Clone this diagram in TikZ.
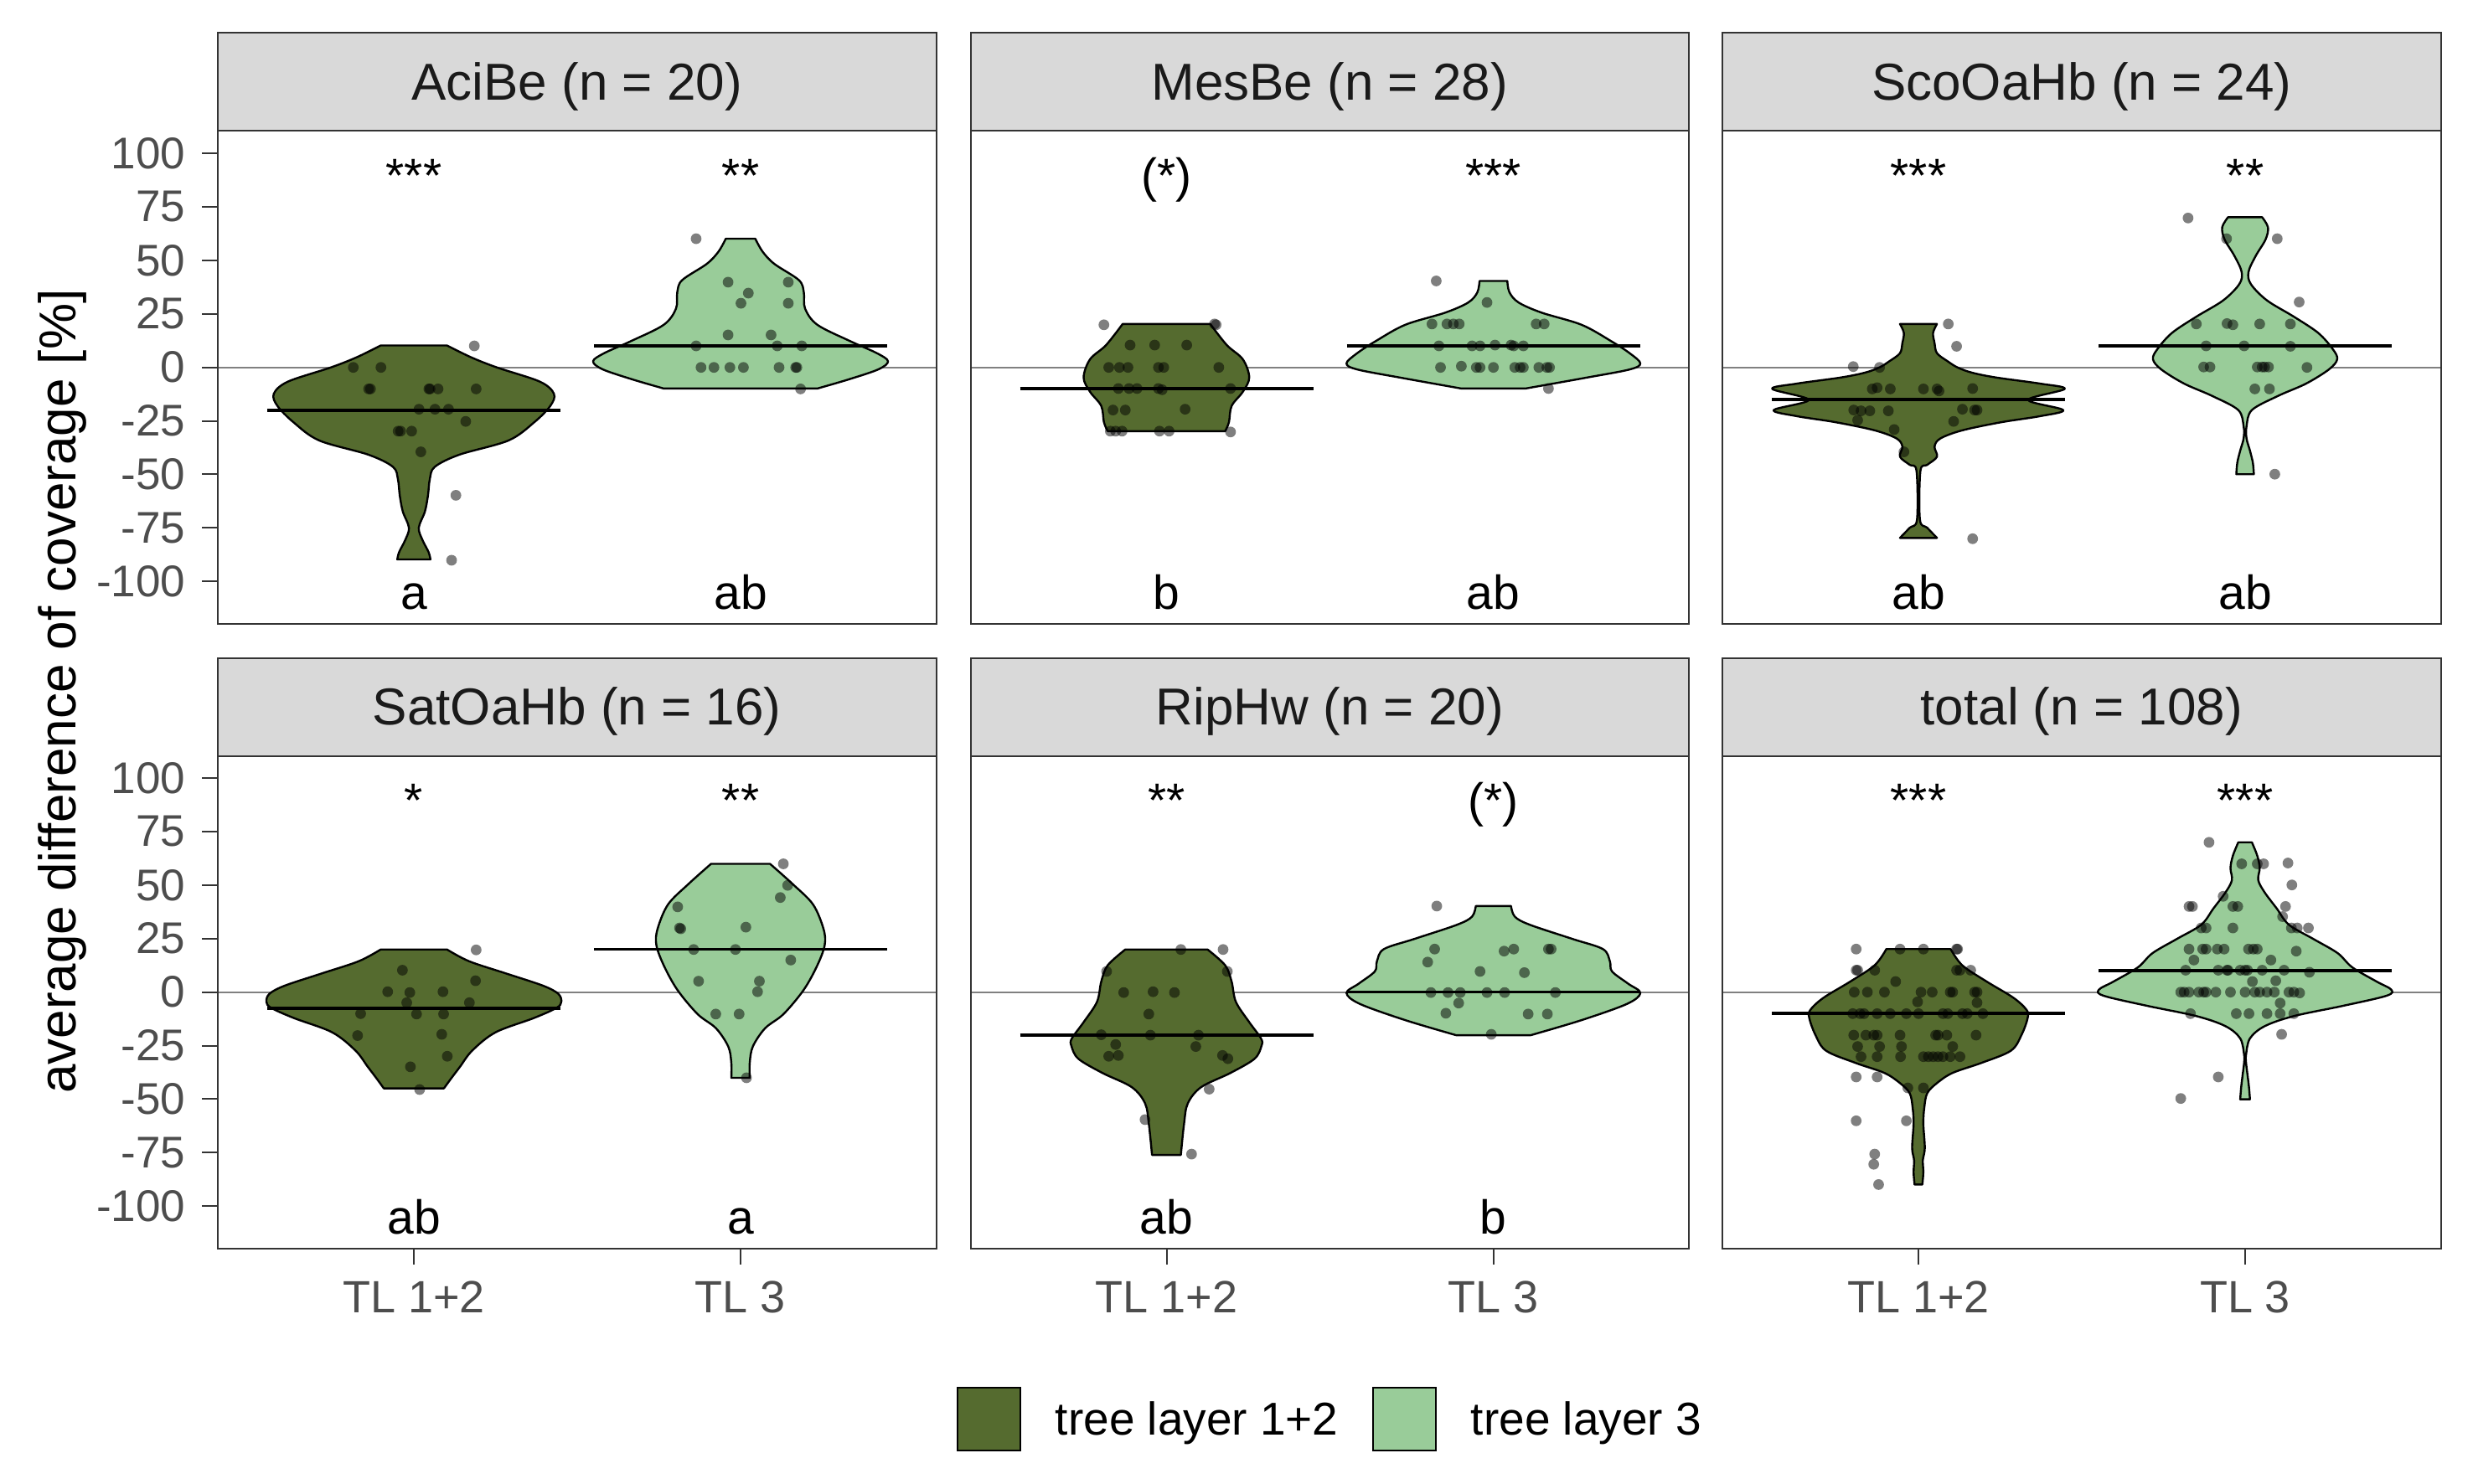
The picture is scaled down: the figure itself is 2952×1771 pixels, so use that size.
\documentclass[tikz,border=0pt]{standalone}
\usepackage{fontspec}
\setmainfont{Liberation Sans}
\definecolor{dgreen}{RGB}{85,107,47}
\definecolor{lgreen}{RGB}{153,204,153}
\definecolor{stripgrey}{RGB}{217,217,217}
\definecolor{framegrey}{RGB}{51,51,51}
\definecolor{ticktxt}{RGB}{77,77,77}
\definecolor{striptxt}{RGB}{26,26,26}
\definecolor{zerogrey}{RGB}{128,128,128}
\tikzset{
 vdark/.style={fill=dgreen, draw=black, line width=0.6pt, line join=round},
 vlight/.style={fill=lgreen, draw=black, line width=0.6pt, line join=round},
 medline/.style={draw=black, line width=0.9pt},
 dotfill/.style={fill=black, fill opacity=0.5},
 zeroline/.style={draw=zerogrey, line width=0.5pt},
 panelframe/.style={draw=framegrey, line width=0.5pt},
 stripbox/.style={fill=stripgrey, draw=framegrey, line width=0.5pt},
 striplabel/.style={font=\fontsize{15.5}{18}\selectfont, text=striptxt, anchor=base, inner sep=0pt},
 sig/.style={font=\fontsize{14.25}{17}\selectfont, anchor=base, inner sep=0pt},
 ytick/.style={font=\fontsize{13.25}{16}\selectfont, text=ticktxt, anchor=east, inner sep=0pt},
 xtick/.style={font=\fontsize{13.5}{16}\selectfont, text=ticktxt, anchor=base, inner sep=0pt},
 tickmark/.style={draw=framegrey, line width=0.5pt},
 legtext/.style={font=\fontsize{13.75}{16}\selectfont, anchor=base west, inner sep=0pt},
 legkey/.style={draw=black, line width=0.6pt},
}
\newcommand\violin[3]{%
 \gdef\vR{}\gdef\vL{}%
 \foreach \yy/\ww in {#3}{%
   \pgfmathsetmacro\xr{#2+\ww}\pgfmathsetmacro\xl{#2-\ww}%
   \xdef\vR{\vR(\xr,\yy)}\xdef\vL{(\xl,\yy)\vL}}%
 \edef\vtmp{\noexpand\draw[#1] plot[smooth,tension=0.55] coordinates {\vR} -- plot[smooth,tension=0.55] coordinates {\vL} -- cycle;}%
 \vtmp}
\newcommand\pts[1]{\foreach \qx/\qy in {#1}{\fill[dotfill] (\qx,\qy) circle[radius=1.6pt];}}
\begin{document}
\begin{tikzpicture}[x=0.25pt,y=-0.25pt]
\useasboundingbox[fill=white] (0,0) rectangle (2952,1771);
% zero lines
\foreach \L in {260,1158.5,2056}{
  \draw[zeroline] (\L,438.6) -- (\L+857.5,438.6);
  \draw[zeroline] (\L,1184.6) -- (\L+857.5,1184.6);
}
% ---------- Panel 1 (AciBe)
\begin{scope}[shift={(0,0)}]\begin{scope}[x=0.18335pt,y=-0.12118pt]
\violin{vdark}{673.6}{851/54, 880/93, 905/135, 940/205, 970/228, 1000/222, 1040/196, 1085/154, 1120/74, 1150/34, 1180/26, 1220/23, 1260/18, 1300/8, 1330/14, 1360/24, 1378/27}
\violin{vlight}{1205.3}{588/24, 620/36, 650/55, 690/95, 720/103, 760/105, 800/125, 840/178, 870/222, 890/240, 910/224, 935/175, 957/125}
\end{scope}\end{scope}
\draw[medline] (319,489.7) -- (669,489.7);
\draw[medline] (709,413.0) -- (1059,413.0);
\begin{scope}[shift={(0,0)}]\begin{scope}[x=0.18335pt,y=-0.12118pt]
\pts{772/852, 575/905, 620/905, 600/958, 603/958, 698/958, 700/958, 713/958, 775/958, 682/1008, 708/1008, 730/1008, 758/1038, 648/1062, 652/1062, 670/1062, 685/1113, 742/1220, 735/1380}
\pts{1133/588, 1185/695, 1283/695, 1218/722, 1206/747, 1283/747, 1185/825, 1255/825, 1133/852, 1265/852, 1305/852, 1141/905, 1162/905, 1188/905, 1210/905, 1268/905, 1295/905, 1297/905, 1303/958}
\end{scope}\end{scope}
% ---------- Panel 2 (MesBe)
\begin{scope}[shift={(1150,0)}]\begin{scope}[x=0.15944pt,y=-0.12118pt]
\violin{vdark}{380}{798/82, 850/113, 885/143, 930/155, 965/143, 1000/122, 1040/117, 1062/110}
\violin{vlight}{992}{692/26, 720/30, 745/47, 770/90, 800/165, 840/220, 870/255, 895/275, 910/255, 930/175, 957/60}
\end{scope}\end{scope}
\draw[medline] (1217.5,464.2) -- (1567.5,464.2);
\draw[medline] (1607.5,413.0) -- (1957.5,413.0);
\begin{scope}[shift={(1150,0)}]\begin{scope}[x=0.15944pt,y=-0.12118pt]
\pts{263/800, 470/798, 473/800, 312/850, 358/850, 418/850, 272/905, 292/905, 308/905, 365/905, 375/905, 478/905, 290/957, 310/957, 325/957, 365/957, 372/960, 500/957, 280/1010, 303/1010, 415/1008, 275/1062, 285/1062, 297/1062, 367/1062, 385/1062, 500/1064}
\pts{885/692, 980/745, 877/798, 905/798, 917/798, 928/798, 1072/798, 1087/798, 890/852, 952/852, 967/852, 995/850, 1025/850, 1030/852, 1048/852, 893/905, 932/902, 960/905, 967/905, 992/905, 1032/905, 1042/905, 1048/905, 1077/905, 1092/905, 1097/905, 1095/957}
\end{scope}\end{scope}
% ---------- Panel 3 (ScoOaHb)
\begin{scope}[shift={(2040,0)}]\begin{scope}[x=0.14543pt,y=-0.12118pt]
\violin{vdark}{429.8}{798/38, 820/30, 845/33, 870/38, 890/60, 905/80, 918/110, 930/160, 945/250, 958/300, 985/225, 1010/297, 1025/250, 1040/170, 1060/90, 1080/45, 1100/33, 1125/38, 1145/18, 1160/4, 1280/3, 1300/18, 1325/38}
\violin{vlight}{1100}{535/35, 560/47, 590/42, 630/22, 670/7, 700/12, 740/45, 780/100, 820/150, 860/180, 885/189, 910/172, 945/125, 975/68, 1010/14, 1050/3, 1080/3, 1110/10, 1140/16, 1168/18}
\end{scope}\end{scope}
\draw[medline] (2115,476.9) -- (2465,476.9);
\draw[medline] (2505,413.0) -- (2855,413.0);
\begin{scope}[shift={(2040,0)}]\begin{scope}[x=0.14543pt,y=-0.12118pt]
\pts{491/798, 508/853, 296/903, 350/905, 335/958, 345/955, 372/958, 440/958, 468/958, 472/963, 541/957, 297/1010, 312/1012, 330/1012, 368/1012, 520/1008, 545/1010, 550/1010, 305/1035, 502/1038, 380/1058, 400/1113, 541/1327}
\pts{983/537, 1062/588, 1166/588, 1211/744, 1000/798, 1063/797, 1075/800, 1130/798, 1193/798, 1020/852, 1098/852, 1193/853, 1015/904, 1028/904, 1125/904, 1135/904, 1140/904, 1148/904, 1227/905, 1120/958, 1150/958, 1161/1168}
\end{scope}\end{scope}
% ---------- Panel 4 (SatOaHb)
\begin{scope}[shift={(0,760)}]\begin{scope}[x=0.18335pt,y=-0.12118pt]
\violin{vdark}{673.6}{771/54, 800/90, 830/150, 860/210, 880/235, 900/240, 915/232, 940/195, 975/133, 1020/95, 1060/75, 1090/60, 1113/49}
\violin{vlight}{1205.3}{560/48, 610/85, 660/118, 720/135, 760/137, 810/125, 870/103, 930/70, 965/40, 1010/20, 1050/15, 1087/15}
\end{scope}\end{scope}
\draw[medline] (319,1203.8) -- (669,1203.8);
\draw[medline] (709,1133.5) -- (1059,1133.5);
\begin{scope}[shift={(0,760)}]\begin{scope}[x=0.18335pt,y=-0.12118pt]
\pts{775/772, 655/822, 631/875, 667/877, 721/875, 774/848, 662/902, 764/902, 587/929, 678/930, 722/930, 582/983, 719/980, 728/1034, 668/1060, 683/1116}
\pts{1275/560, 1282/613, 1270/643, 1103/666, 1106/718, 1108/720, 1214/716, 1129/771, 1197/771, 1287/797, 1137/849, 1236/849, 1233/875, 1165/930, 1203/930, 1215/1087}
\end{scope}\end{scope}
% ---------- Panel 5 (RipHw)
\begin{scope}[shift={(1150,760)}]\begin{scope}[x=0.15944pt,y=-0.12118pt]
\violin{vdark}{380}{771/77, 810/110, 850/122, 900/130, 950/155, 990/177, 1008/178, 1040/165, 1075/120, 1110/65, 1150/40, 1200/33, 1277/27}
\violin{vlight}{992}{664/33, 690/40, 710/68, 745/148, 770/205, 800/218, 825/222, 855/252, 878/275, 905/250, 945/165, 982/70}
\end{scope}\end{scope}
\draw[medline] (1217.5,1235.7) -- (1567.5,1235.7);
\draw[medline] (1607.5,1184.6) -- (1957.5,1184.6);
\begin{scope}[shift={(1150,760)}]\begin{scope}[x=0.15944pt,y=-0.12118pt]
\pts{407/771, 486/771, 268/825, 494/825, 300/877, 355/875, 395/877, 347/930, 258/981, 350/982, 440/982, 285/1005, 435/1010, 272/1034, 290/1032, 485/1032, 495/1040, 460/1115, 340/1190, 427/1275}
\pts{886/664, 882/770, 1012/775, 1030/770, 1095/770, 1100/770, 869/802, 967/825, 1050/828, 875/877, 907/877, 930/877, 980/877, 1013/877, 1108/877, 927/903, 903/928, 1057/930, 1093/930, 988/980}
\end{scope}\end{scope}
% ---------- Panel 6 (total)
\begin{scope}[shift={(2040,760)}]\begin{scope}[x=0.14543pt,y=-0.12118pt]
\violin{vdark}{429.8}{770/66, 810/90, 850/140, 890/195, 920/222, 940/224, 980/212, 1020/190, 1050/130, 1075/70, 1100/38, 1125/18, 1160/12, 1200/10, 1260/13, 1290/9, 1320/10, 1350/8}
\violin{vlight}{1100}{507/14, 540/25, 570/30, 600/27, 630/40, 670/65, 710/90, 745/140, 780/190, 815/220, 850/270, 870/300, 885/290, 910/200, 935/100, 960/40, 990/10, 1030/2, 1050/2, 1080/5, 1110/8, 1140/10}
\end{scope}\end{scope}
\draw[medline] (2115,1210.2) -- (2465,1210.2);
\draw[medline] (2505,1159.0) -- (2855,1159.0);
\begin{scope}[shift={(2040,760)}]\begin{scope}[x=0.14543pt,y=-0.12118pt]
\pts{302/770, 392/770, 440/770, 508/770, 510/770, 302/822, 305/822, 340/822, 508/822, 515/822, 537/822, 383/850, 298/876, 325/876, 360/876, 435/876, 458/876, 495/876, 500/876, 545/876, 550/876, 428/900, 550/902, 295/929, 310/929, 318/929, 345/929, 372/929, 405/929, 430/929, 480/929, 490/929, 520/929, 530/929, 562/929, 297/982, 322/982, 338/982, 345/982, 392/982, 465/982, 470/982, 488/982, 548/982, 305/1010, 350/1010, 395/1010, 500/1010, 312/1035, 345/1035, 393/1035, 440/1035, 450/1035, 460/1035, 470/1035, 480/1035, 495/1035, 515/1035, 302/1085, 345/1085, 408/1112, 440/1112, 302/1193, 405/1193, 340/1275, 338/1300, 348/1350}
\pts{1026/507, 1093/560, 1125/560, 1138/560, 1188/558, 1196/612, 1055/640, 985/665, 992/665, 1075/665, 1085/665, 1183/665, 1177/690, 1010/718, 1020/718, 1075/718, 1195/718, 1207/718, 1230/718, 985/770, 1013/770, 1020/770, 1043/770, 1057/770, 1107/770, 1117/770, 1125/770, 1205/775, 995/797, 1153/797, 978/822, 1045/822, 1063/822, 1065/822, 1090/822, 1100/822, 1105/822, 1135/822, 1180/822, 1232/827, 1115/850, 1163/848, 968/876, 975/876, 985/876, 1005/876, 1015/876, 1020/876, 1040/876, 1070/876, 1100/876, 1120/876, 1130/876, 1145/876, 1160/876, 1190/876, 1200/876, 1212/878, 1172/903, 988/929, 1082/929, 1108/929, 1145/929, 1172/929, 1200/929, 1175/980, 1045/1085, 968/1138}
\end{scope}\end{scope}
% ---------- strips and frames
\foreach \L/\C/\T [count=\i] in {260/688.75/AciBe (n = 20), 1158.5/1587.25/MesBe (n = 28), 2056/2484.75/ScoOaHb (n = 24)}{
  \draw[stripbox] (\L,39) rectangle (\L+857.5,156);
  \node[striplabel] (stripA\i) at (\C,119) {\T};
  \draw[panelframe] (\L,156) rectangle (\L+857.5,745);
}
\foreach \L/\C/\T [count=\i] in {260/688.75/SatOaHb (n = 16), 1158.5/1587.25/RipHw (n = 20), 2056/2484.75/total (n = 108)}{
  \draw[stripbox] (\L,785.5) rectangle (\L+857.5,902.5);
  \node[striplabel] (stripB\i) at (\C,865) {\T};
  \draw[panelframe] (\L,902.5) rectangle (\L+857.5,1491);
}
% ---------- significance and letters
\node[sig] (s1a) at (494,229) {***};
\node[sig] (s1b) at (884,229) {**};
\node[sig] (s2a) at (1392.5,229) {(*)};
\node[sig] (s2b) at (1782.5,229) {***};
\node[sig] (s3a) at (2290,229) {***};
\node[sig] (s3b) at (2680,229) {**};
\node[sig] (s4a) at (494,975) {*};
\node[sig] (s4b) at (884,975) {**};
\node[sig] (s5a) at (1392.5,975) {**};
\node[sig] (s5b) at (1782.5,975) {(*)};
\node[sig] (s6a) at (2290,975) {***};
\node[sig] (s6b) at (2680,975) {***};
\node[sig] (l1a) at (494,727) {a};
\node[sig] (l1b) at (884,727) {ab};
\node[sig] (l2a) at (1392.5,727) {b};
\node[sig] (l2b) at (1782.5,727) {ab};
\node[sig] (l3a) at (2290,727) {ab};
\node[sig] (l3b) at (2680,727) {ab};
\node[sig] (l4a) at (494,1473) {ab};
\node[sig] (l4b) at (884,1473) {a};
\node[sig] (l5a) at (1392.5,1473) {ab};
\node[sig] (l5b) at (1782.5,1473) {b};
% ---------- y axis
\foreach \v [count=\i] in {100,75,50,25,0,-25,-50,-75,-100}{
  \draw[tickmark] (241,{438.6-2.556*\v}) -- (260,{438.6-2.556*\v});
  \node[ytick] (ytA\i) at (222,{438.6-2.556*\v}) {\v};
  \draw[tickmark] (241,{1184.6-2.556*\v}) -- (260,{1184.6-2.556*\v});
  \node[ytick] (ytB\i) at (222,{1184.6-2.556*\v}) {\v};
}
% ---------- x axis
\foreach \X/\T [count=\i] in {494/TL 1+2, 884/TL 3, 1392.5/TL 1+2, 1782.5/TL 3, 2290/TL 1+2, 2680/TL 3}{
  \draw[tickmark] (\X,1491) -- (\X,1510);
  \node[xtick] (xt\i) at (\X,1567) {\T};
}
\node[rotate=90, anchor=base, inner sep=0pt, font=\fontsize{15.5}{18}\selectfont] (ytitle) at (90,825.5) {average difference of coverage [\%]};
% ---------- legend
\draw[legkey, fill=dgreen] (1143,1657) rectangle (1218,1732);
\node[legtext] (leg1) at (1259,1713) {tree layer 1+2};
\draw[legkey, fill=lgreen] (1639,1657) rectangle (1714,1732);
\node[legtext] (leg2) at (1755,1713) {tree layer 3};
\end{tikzpicture}
\end{document}
